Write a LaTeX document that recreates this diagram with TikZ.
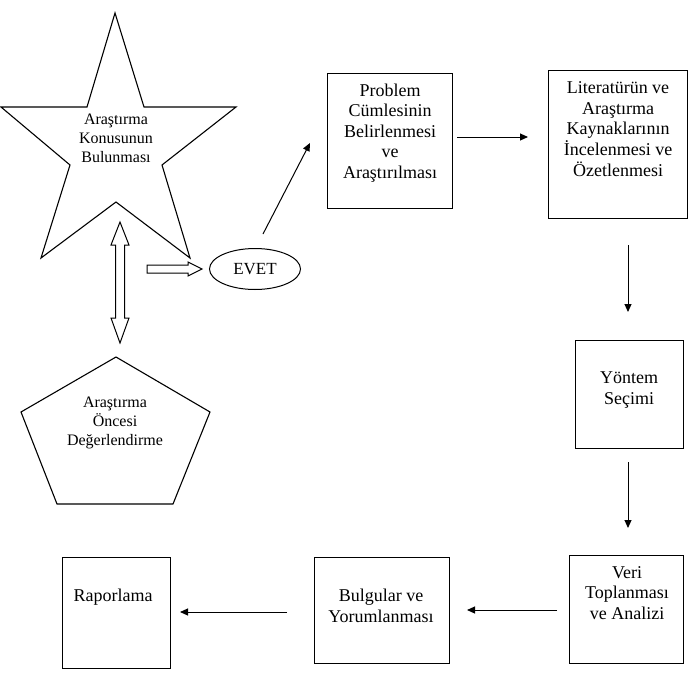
\documentclass[tikz,border=0pt]{standalone}
\usepackage{fontspec}
\setmainfont{Liberation Serif}
\usetikzlibrary{arrows.meta,shapes.geometric}
\tikzset{
  box/.style={draw, line width=1.2pt, inner sep=0pt, anchor=north west},
  txtbig/.style={inner sep=0pt, align=center, font=\fontsize{18}{20.6}\selectfont},
  txtsmall/.style={inner sep=0pt, align=center, font=\fontsize{16}{18.8}\selectfont},
  shapeline/.style={draw, line width=1.1pt, line join=miter},
  hollow/.style={draw, line width=1pt, fill=white},
  conn/.style={line width=1pt, -{Triangle[length=8pt,width=7pt]}},
  plain/.style={line width=1pt}
}
\begin{document}
\begin{tikzpicture}[x=1pt,y=-1pt]
\useasboundingbox (0,0) rectangle (693,688);
% star
\draw[shapeline] (115,13) -- (144,107) -- (236,107) -- (162,165) -- (190,258) -- (116,202)
  -- (41,258) -- (70,165) -- (1,107) -- (87,107) -- cycle;
\node[txtsmall] (star) at (116,138) {Araştırma\\Konusunun\\Bulunması};
% pentagon
\draw[shapeline] (116,357) -- (210,412) -- (173,504) -- (57,504) -- (21,412) -- cycle;
\node[txtsmall] (penta) at (115,423) {Araştırma\\Öncesi\\Değerlendirme};
% hollow double arrow
\draw[hollow] (120,222) -- (129,245) -- (124.5,245) -- (124.5,318) -- (129,318) -- (120,343)
  -- (111,318) -- (115.5,318) -- (115.5,245) -- (111,245) -- cycle;
% hollow right arrow
\draw[hollow] (147,265) -- (188,265) -- (188,262) -- (202,269) -- (188,276) -- (188,273)
  -- (147,273) -- cycle;
% EVET
\node[ellipse, draw, line width=1pt, minimum width=91pt, minimum height=41pt, inner sep=0pt,
  font=\fontsize{17}{20}\selectfont] (evet) at (255,269) {EVET};
% boxes
\node[box, minimum width=125pt, minimum height=135pt] (prob) at (327,73) {};
\node[txtbig] (probt) at (390,133) {Problem\\Cümlesinin\\Belirlenmesi\\ve\\Araştırılması};
\node[box, minimum width=139pt, minimum height=148pt] (lit) at (548,70) {};
\node[txtbig] (litt) at (618,129) {Literatürün ve\\Araştırma\\Kaynaklarının\\İncelenmesi ve\\Özetlenmesi};
\node[box, minimum width=108pt, minimum height=108pt] (yon) at (575,340) {};
\node[txtbig] (yont) at (629,390) {Yöntem\\Seçimi};
\node[box, minimum width=114pt, minimum height=108pt] (veri) at (569,555) {};
\node[txtbig] (verit) at (627,593) {Veri\\Toplanması\\ve Analizi};
\node[box, minimum width=135pt, minimum height=106pt] (bul) at (314,557) {};
\node[txtbig] (bult) at (381,606) {Bulgular ve\\Yorumlanması};
\node[box, minimum width=108pt, minimum height=111pt] (rap) at (62,557) {};
\node[txtbig] (rapt) at (113,597) {Raporlama};
% connector end points
\coordinate (e1) at (263,234); \coordinate (e2) at (310,143);
\coordinate (p1) at (457,137); \coordinate (p2) at (528,137);
\coordinate (l1) at (628,245); \coordinate (l2) at (628,312);
\coordinate (y1) at (628,462); \coordinate (y2) at (628,528);
\coordinate (v1) at (557,610); \coordinate (v2) at (467,610);
\coordinate (b1) at (287,612); \coordinate (b2) at (180,612);
\draw[conn] (e1) -- (e2);
\draw[conn] (p1) -- (p2);
\draw[conn] (l1) -- (l2);
\draw[conn] (y1) -- (y2);
\draw[conn] (v1) -- (v2);
\draw[conn] (b1) -- (b2);
\end{tikzpicture}
\end{document}
